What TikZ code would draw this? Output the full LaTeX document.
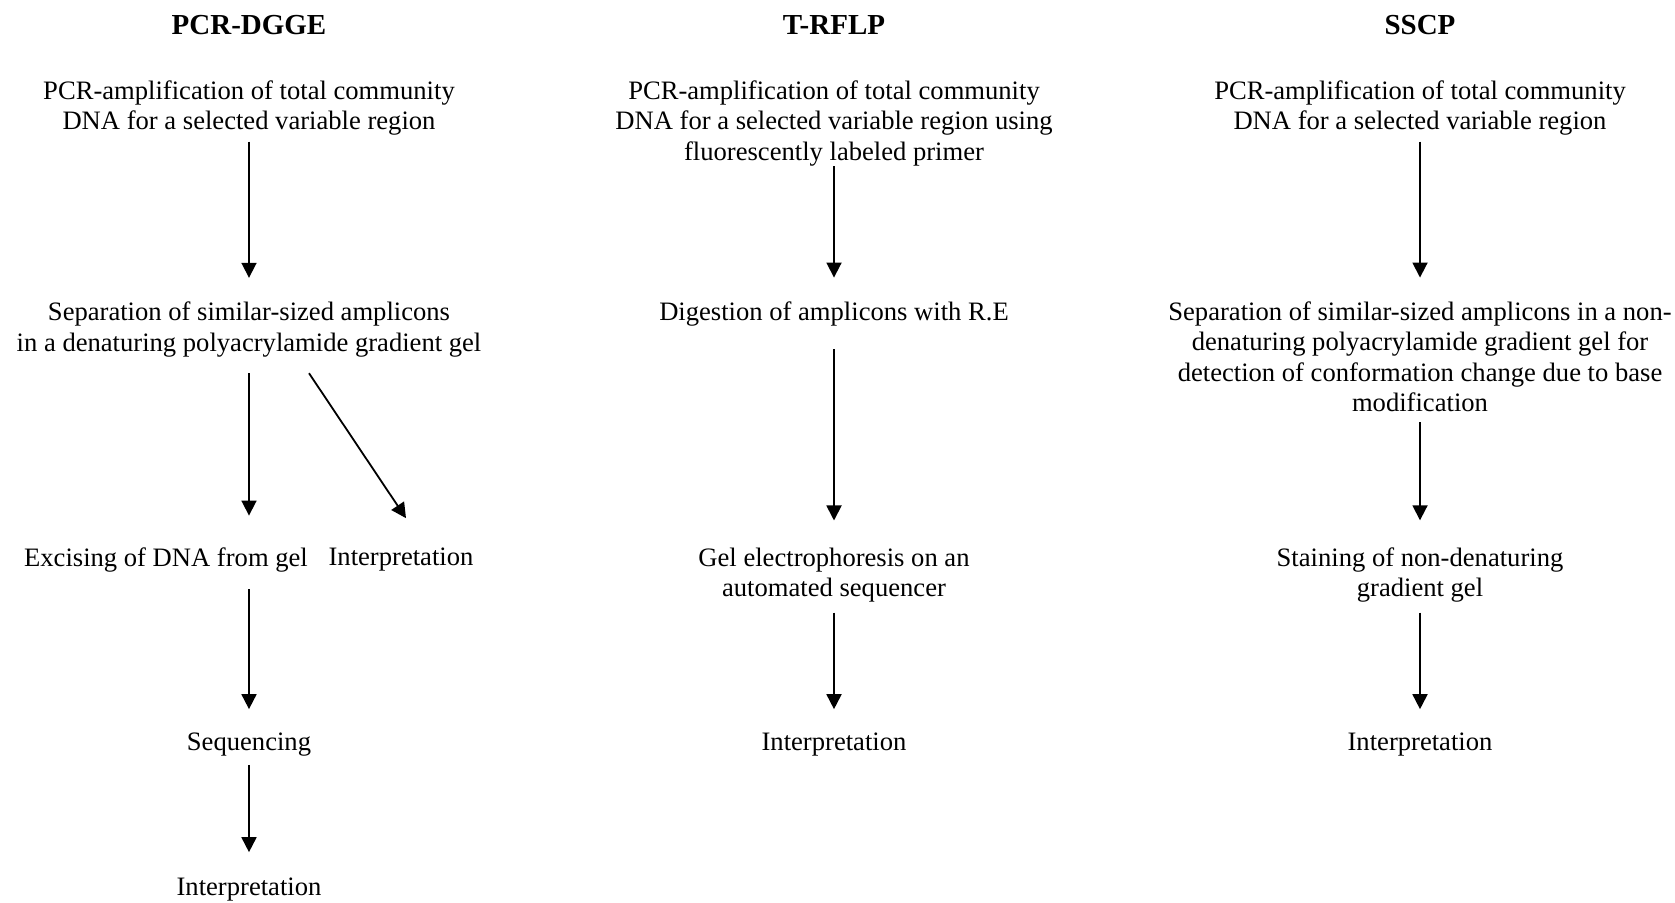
\documentclass[tikz,border=0pt]{standalone}
\usepackage{fontspec}
\setmainfont{Liberation Serif}
\usetikzlibrary{arrows.meta,calc}
\begin{document}
\begin{tikzpicture}[x=1pt,y=1pt,
  txt/.style={inner sep=0pt,align=center,font=\fontsize{26.6}{30.5}\selectfont},
  ttl/.style={inner sep=0pt,font=\fontsize{29}{34}\selectfont\bfseries},
  arr/.style={line width=1.8pt,-{Triangle[length=15pt,width=15pt]}}]
\useasboundingbox (0,0) rectangle (1675,-902);
% titles
\node[ttl] (t1) at (249,-25) {PCR-DGGE};
\node[ttl] (t2) at (834,-25) {T-RFLP};
\node[ttl] (t3) at (1420,-25) {SSCP};
% column 1
\node[txt] (a1) at (249,-108) {PCR-amplification of total community\\DNA for a selected variable region};
\node[txt] (a2) at (249,-329.5) {Separation of similar-sized amplicons\\in a denaturing polyacrylamide gradient gel};
\node[txt] (a3) at (166,-560) {Excising of DNA from gel};
\node[txt] (a4) at (401,-560) {Interpretation};
\node[txt] (a5) at (249,-745) {Sequencing};
\node[txt] (a6) at (249,-890) {Interpretation};
% column 2
\node[txt] (b1) at (834,-123.5) {PCR-amplification of total community\\DNA for a selected variable region using\\fluorescently labeled primer};
\node[txt] (b2) at (834,-314) {Digestion of amplicons with R.E};
\node[txt] (b3) at (834,-575) {Gel electrophoresis on an\\automated sequencer};
\node[txt] (b4) at (834,-745) {Interpretation};
% column 3
\node[txt] (c1) at (1420,-108) {PCR-amplification of total community\\DNA for a selected variable region};
\node[txt] (c2) at (1420,-357) {Separation of similar-sized amplicons in a non-\\denaturing polyacrylamide gradient gel for\\detection of conformation change due to base\\modification};
\node[txt] (c3) at (1420,-575) {Staining of non-denaturing\\gradient gel};
\node[txt] (c4) at (1420,-745) {Interpretation};
% arrows column 1
\draw[arr] ([yshift=-6pt]a1.south) -- ([yshift=24pt]a2.north);
\draw[arr] ([yshift=-16pt]a2.south) -- ($(a3.north -| a2.south)+(0,32)$);
\draw[arr] ($(a2.south)+(60,-16)$) -- ($(a4.north)+(5,30)$);
\draw[arr] ($(a3.south -| a5.north)+(0,-17)$) -- ([yshift=24pt]a5.north);
\draw[arr] ([yshift=-8pt]a5.south) -- ([yshift=26pt]a6.north);
% arrows column 2
\draw[arr] (b1.south) -- ([yshift=24pt]b2.north);
\draw[arr] ([yshift=-23pt]b2.south) -- ([yshift=27pt]b3.north);
\draw[arr] ([yshift=-10pt]b3.south) -- ([yshift=24pt]b4.north);
% arrows column 3
\draw[arr] ([yshift=-6pt]c1.south) -- ([yshift=24pt]c2.north);
\draw[arr] ([yshift=-10pt]c2.south) -- ([yshift=27pt]c3.north);
\draw[arr] ([yshift=-10pt]c3.south) -- ([yshift=24pt]c4.north);
\end{tikzpicture}
\end{document}
